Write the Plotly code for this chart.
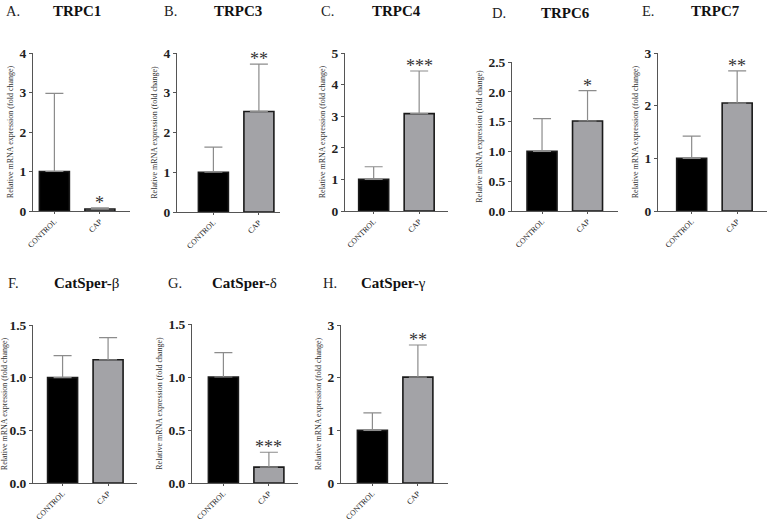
import plotly.graph_objects as go

# ---- data ----
letters = ["A.", "B.", "C.", "D.", "E.", "F.", "G.", "H."]
genes = ["TRPC1", "TRPC3", "TRPC4", "TRPC6", "TRPC7", "CatSper-β", "CatSper-δ", "CatSper-γ"]
groups = ["CONTROL", "CAP"]
control_mean = [1.0, 1.0, 1.0, 1.0, 1.0, 1.0, 1.0, 1.0]
control_err = [1.98, 0.63, 0.40, 0.55, 0.42, 0.21, 0.23, 0.33]
cap_mean = [0.05, 2.53, 3.08, 1.51, 2.05, 1.17, 0.15, 2.01]
cap_err = [0.03, 1.19, 1.35, 0.51, 0.61, 0.21, 0.14, 0.61]
stars = ["*", "**", "***", "*", "**", "", "***", "**"]
y_max = [4, 4, 5, 2.5, 3, 1.5, 1.5, 3]
y_dtick = [1, 1, 1, 0.5, 1, 0.5, 0.5, 1]
y_fmt = [".0f", ".0f", ".0f", ".1f", ".0f", ".1f", ".1f", ".0f"]

# ---- layout (pixels) ----
W, H = 769, 524
# (axis left px, axis right px, top px, zero px, x-range start, letter x, gene x center, title y)
panels = [
    (33, 130, 53, 211, -0.47, 4, 77, 11),
    (177, 280, 53, 212, -0.80, 162, 238, 11),
    (345, 448, 53, 211, -0.63, 319, 396, 11),
    (512, 618, 62, 211, -0.66, 490, 565, 13),
    (658, 767, 53, 211, -0.74, 640, 715, 11),
    (33, 137, 325, 483, -0.65, 6, 86, 283),
    (192, 298, 324, 483, -0.69, 166, 245, 283),
    (341, 448, 325, 483, -0.69, 321, 394, 283),
]
sep_px = 45.5
serif = "Liberation Serif, Times New Roman, serif"

fig = go.Figure()
annotations = []
layout = dict(
    width=W, height=H, margin=dict(l=0, r=0, t=0, b=0, autoexpand=False),
    paper_bgcolor="white", plot_bgcolor="white", showlegend=False,
    font=dict(family=serif, color="#222"),
)

for i in range(8):
    x0, x1, ytop, yzero, xs, lx, gx, ty = panels[i]
    n = "" if i == 0 else str(i + 1)
    xa, ya = "x" + n, "y" + n
    xr_end = xs + (x1 - x0) / sep_px
    fig.add_trace(go.Bar(
        x=[0, 1], y=[control_mean[i], cap_mean[i]], width=30 / sep_px,
        marker=dict(color=["#000000", "#a3a3a7"], line=dict(color="#1a1a1a", width=1.6)),
        error_y=dict(type="data", symmetric=False, array=[control_err[i], cap_err[i]],
                     arrayminus=[0, 0], color="#8c8c8c", thickness=1.2, width=9),
        xaxis=xa, yaxis=ya,
    ))
    layout["xaxis" + n] = dict(
        domain=[x0 / W, x1 / W], anchor=ya, range=[xs, xr_end], automargin=False,
        tickvals=[0, 1], ticktext=groups, tickangle=-45,
        tickfont=dict(size=7.8, family=serif, color="#222"),
        showline=True, linecolor="#555", linewidth=1, ticks="outside", ticklen=2,
        tickcolor="#555", showgrid=False, zeroline=False, fixedrange=True,
    )
    layout["yaxis" + n] = dict(
        domain=[1 - yzero / H, 1 - ytop / H], anchor=xa, range=[0, y_max[i]], automargin=False,
        dtick=y_dtick[i], tickformat=y_fmt[i],
        tickfont=dict(size=13.5, family=serif, color="#222", weight="bold"),
        showline=True, linecolor="#555", linewidth=1, ticks="outside", ticklen=3,
        tickcolor="#555", showgrid=False, zeroline=False, fixedrange=True,
        title=dict(text="Relative mRNA expression (fold change)", standoff=4,
                   font=dict(size=8, family=serif, color="#333")),
    )
    if stars[i]:
        annotations.append(dict(
            x=1, y=cap_mean[i] + cap_err[i], xref=xa, yref=ya, text=stars[i],
            showarrow=False, yanchor="bottom", yshift=-7,
            font=dict(size=18, family=serif, color="#333"),
        ))
    annotations.append(dict(
        x=lx / W, y=1 - ty / H, xref="paper", yref="paper", text=letters[i],
        showarrow=False, xanchor="left", yanchor="middle",
        font=dict(size=14.5, family=serif, color="#222"),
    ))
    g = genes[i]
    if "-" in g:
        base, greek = g.split("-", 1)
        gtext = "<b>" + base + "-</b>" + greek
    else:
        gtext = "<b>" + g + "</b>"
    annotations.append(dict(
        x=gx / W, y=1 - ty / H, xref="paper", yref="paper", text=gtext,
        showarrow=False, xanchor="center", yanchor="middle",
        font=dict(size=15, family=serif, color="#111"),
    ))

layout["annotations"] = annotations
fig.update_layout(**layout)
fig.write_html("out.html", config={"displayModeBar": False},
               post_script="document.body.style.margin='0px';document.body.style.overflow='hidden';")
